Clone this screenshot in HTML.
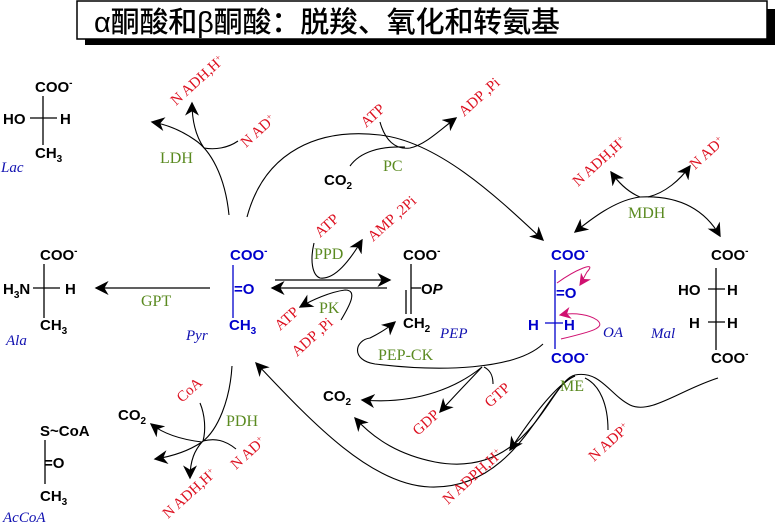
<!DOCTYPE html>
<html><head><meta charset="utf-8"><style>
html,body{margin:0;padding:0;background:#fff;}
svg{display:block;}
.b{font-family:"Liberation Sans",sans-serif;font-weight:bold;font-size:15px;fill:#000;}
.bl{font-family:"Liberation Sans",sans-serif;font-weight:bold;font-size:15px;fill:#0000cc;}
.sub{font-size:10px;}
.it{font-family:"Liberation Serif",serif;font-style:italic;font-size:15px;fill:#1010b0;}
.g{font-family:"Liberation Serif",serif;font-size:16px;fill:#5a8a20;}
.r{font-family:"Liberation Serif",serif;font-size:15px;fill:#dd1020;}
path.c{fill:none;stroke:#000;stroke-width:1.1;}
line{stroke:#000;stroke-width:1.3;}
</style></head><body>
<svg width="777" height="527" viewBox="0 0 777 527" xmlns="http://www.w3.org/2000/svg">
<defs>
<marker id="a" viewBox="0 0 10 10" refX="9" refY="5" markerWidth="14" markerHeight="14" markerUnits="userSpaceOnUse" orient="auto"><path d="M0,0 L10,5 L0,10 L3,5z" fill="#000"/></marker>
<marker id="m" viewBox="0 0 10 10" refX="9" refY="5" markerWidth="12" markerHeight="12" markerUnits="userSpaceOnUse" orient="auto"><path d="M0,0 L10,5 L0,10 L3,5z" fill="#d01070"/></marker>
</defs>
<!-- title -->
<rect x="85" y="9" width="690" height="36" fill="#000"/>
<rect x="77" y="1" width="690" height="38" fill="#fff" stroke="#000" stroke-width="1.5"/>
<text x="94" y="32" textLength="466" style="font-family:'Liberation Sans','Noto Sans CJK SC',sans-serif;font-size:29px;font-weight:500;">α酮酸和β酮酸：脱羧、氧化和转氨基</text>

<!-- Lac -->
<text class="b" x="35" y="92">COO<tspan class="sub" dy="-6">-</tspan></text>
<line x1="43" y1="96" x2="43" y2="145"/><line x1="30" y1="118" x2="57" y2="118"/>
<text class="b" x="3" y="124">HO</text><text class="b" x="60" y="124">H</text>
<text class="b" x="35" y="158">CH<tspan class="sub" dy="4">3</tspan></text>
<text class="it" x="1" y="172">Lac</text>

<!-- Ala -->
<text class="b" x="40" y="260">COO<tspan class="sub" dy="-6">-</tspan></text>
<line x1="44" y1="264" x2="44" y2="318"/><line x1="33" y1="288" x2="60" y2="288"/>
<text class="b" x="3" y="294">H<tspan class="sub" dy="4">3</tspan><tspan dy="-4">N</tspan></text><text class="b" x="65" y="294">H</text>
<text class="b" x="40" y="330">CH<tspan class="sub" dy="4">3</tspan></text>
<text class="it" x="6" y="345">Ala</text>

<!-- AcCoA -->
<text class="b" x="40" y="436">S~CoA</text>
<line x1="45" y1="440" x2="45" y2="484"/>
<text class="b" x="44" y="468">=O</text>
<text class="b" x="40" y="501">CH<tspan class="sub" dy="4">3</tspan></text>
<text class="it" x="3" y="522">AcCoA</text>

<!-- Pyr -->
<text class="bl" x="230" y="260">COO<tspan class="sub" dy="-6">-</tspan></text>
<line x1="233" y1="265" x2="233" y2="318" style="stroke:#0000cc"/>
<text class="bl" x="234" y="294">=O</text>
<text class="bl" x="229" y="330">CH<tspan class="sub" dy="4">3</tspan></text>
<text class="it" x="186" y="340">Pyr</text>

<!-- PEP -->
<text class="b" x="403" y="260">COO<tspan class="sub" dy="-6">-</tspan></text>
<line x1="411" y1="264" x2="411" y2="314"/><line x1="406" y1="290" x2="406" y2="314"/>
<line x1="411" y1="288" x2="421" y2="288"/>
<text class="b" x="421" y="294">O<tspan font-style="italic">P</tspan></text>
<text class="b" x="403" y="328">CH<tspan class="sub" dy="4">2</tspan></text>
<text class="it" x="440" y="338">PEP</text>

<!-- OA -->
<text class="bl" x="551" y="260">COO<tspan class="sub" dy="-6">-</tspan></text>
<line x1="555" y1="270" x2="555" y2="349" style="stroke:#0000cc"/>
<line x1="545" y1="323" x2="563" y2="323" style="stroke:#0000cc"/>
<text class="bl" x="556" y="298">=O</text>
<text class="bl" x="528" y="330">H</text><text class="bl" x="564" y="330">H</text>
<text class="bl" x="551" y="363">COO<tspan class="sub" dy="-6">-</tspan></text>
<text class="it" x="603" y="337">OA</text>
<path d="M557,283 C575,270 598,260 587,272 C584,277 582,282 580,285" fill="none" stroke="#d01070" stroke-width="1" marker-end="url(#m)"/>
<path d="M561,339 C590,332 607,328 597,320 C590,315 575,312 560,315" fill="none" stroke="#d01070" stroke-width="1" marker-end="url(#m)"/>

<!-- Mal -->
<text class="b" x="711" y="260">COO<tspan class="sub" dy="-6">-</tspan></text>
<line x1="716" y1="268" x2="716" y2="350"/>
<line x1="708" y1="289" x2="725" y2="289"/><line x1="708" y1="322" x2="725" y2="322"/>
<text class="b" x="678" y="295">HO</text><text class="b" x="727" y="295">H</text>
<text class="b" x="689" y="328">H</text><text class="b" x="727" y="328">H</text>
<text class="b" x="711" y="363">COO<tspan class="sub" dy="-6">-</tspan></text>
<text class="it" x="651" y="338">Mal</text>

<!-- GPT -->
<line x1="210" y1="288" x2="96" y2="288" marker-end="url(#a)"/>
<text class="g" x="141" y="306">GPT</text>

<!-- Pyr <-> PEP -->
<line x1="275" y1="280" x2="390" y2="280" marker-end="url(#a)"/>
<line x1="387" y1="288" x2="272" y2="288" marker-end="url(#a)"/>

<!-- PPD -->
<path class="c" d="M314,243 C310,260 312,275 320,278 C335,280 350,260 362,240" marker-end="url(#a)"/>
<text class="g" x="314" y="259">PPD</text>
<text class="r" transform="translate(320,238) rotate(-42)">ATP</text>
<text class="r" transform="translate(373,242) rotate(-42)">AMP ,2Pi</text>

<!-- PK -->
<path class="c" d="M341,320 C350,305 358,290 345,290 C330,292 312,300 300,307" marker-end="url(#a)"/>
<text class="g" x="319" y="313">PK</text>
<text class="r" transform="translate(280,331) rotate(-42)">ATP</text>
<text class="r" transform="translate(297,357) rotate(-42)">ADP ,Pi</text>

<!-- LDH -->
<path class="c" d="M229,215 C225,175 210,150 195,140 C185,133 170,125 152,122" marker-end="url(#a)"/>
<path class="c" d="M204,148 C195,135 192,120 192,103" marker-end="url(#a)"/>
<path class="c" d="M238,141 C228,148 215,150 204,148"/>
<text class="g" x="160" y="163">LDH</text>
<text class="r" transform="translate(176,106) rotate(-42)">N ADH,H<tspan font-size="9" dy="-5">+</tspan></text>
<text class="r" transform="translate(246,148) rotate(-42)">N AD<tspan font-size="9" dy="-5">+</tspan></text>

<!-- PC -->
<path class="c" d="M247,217 C265,150 320,128 380,135 C440,142 500,200 543,240" marker-end="url(#a)"/>
<path class="c" d="M380,122 C385,140 395,150 410,148 C425,145 440,130 456,118" marker-end="url(#a)"/>
<path class="c" d="M350,166 C360,152 380,146 405,147"/>
<text class="g" x="383" y="171">PC</text>
<text class="b" x="324" y="185">CO<tspan class="sub" dy="4">2</tspan></text>
<text class="r" transform="translate(366,128) rotate(-42)">ATP</text>
<text class="r" transform="translate(464,117) rotate(-42)">ADP ,Pi</text>

<!-- MDH -->
<path class="c" d="M640,197 C615,200 590,220 575,232" marker-end="url(#a)"/>
<path class="c" d="M640,197 C680,195 705,210 720,236" marker-end="url(#a)"/>
<path class="c" d="M640,197 C628,192 618,182 611,172" marker-end="url(#a)"/>
<path class="c" d="M648,197 C665,193 680,180 690,166" marker-end="url(#a)"/>
<text class="g" x="628" y="218">MDH</text>
<text class="r" transform="translate(578,187) rotate(-42)">N ADH,H<tspan font-size="9" dy="-5">+</tspan></text>
<text class="r" transform="translate(695,170) rotate(-42)">N AD<tspan font-size="9" dy="-5">+</tspan></text>

<!-- PDH -->
<path class="c" d="M232,366 C230,400 218,430 202,442 C195,450 190,460 190,478" marker-end="url(#a)"/>
<path class="c" d="M202,442 C185,440 165,435 151,424" marker-end="url(#a)"/>
<path class="c" d="M202,442 C190,450 175,456 155,459" marker-end="url(#a)"/>
<path class="c" d="M200,403 C205,415 206,430 203,441"/>
<path class="c" d="M236,449 C225,440 215,438 203,441"/>
<text class="g" x="226" y="426">PDH</text>
<text class="b" x="118" y="420">CO<tspan class="sub" dy="4">2</tspan></text>
<text class="r" transform="translate(182,403) rotate(-42)">CoA</text>
<text class="r" transform="translate(236,470) rotate(-42)">N AD<tspan font-size="9" dy="-5">+</tspan></text>
<text class="r" transform="translate(168,519) rotate(-42)">N ADH,H<tspan font-size="9" dy="-5">+</tspan></text>

<!-- PEP-CK -->
<path class="c" d="M543,344 C515,370 440,372 375,364 C350,360 355,340 370,338 C380,333 388,328 395,322" marker-end="url(#a)"/>
<path class="c" d="M482,367 C470,380 455,395 440,412" marker-end="url(#a)"/>
<path class="c" d="M482,367 C460,385 420,405 362,400" marker-end="url(#a)"/>
<path class="c" d="M493,384 C493,375 490,370 484,367"/>
<text class="g" x="378" y="360">PEP-CK</text>
<text class="b" x="323" y="401">CO<tspan class="sub" dy="4">2</tspan></text>
<text class="r" transform="translate(490,408) rotate(-42)">GTP</text>
<text class="r" transform="translate(418,436) rotate(-42)">GDP</text>

<!-- ME -->
<path class="c" d="M718,378 C680,390 650,415 630,405 C610,395 600,370 575,375 C550,380 530,480 435,462 C400,455 375,440 355,418" marker-end="url(#a)"/>
<path class="c" d="M575,376 C545,385 520,490 430,487 C370,485 310,420 256,363" marker-end="url(#a)"/>
<path class="c" d="M575,376 C555,385 530,420 510,450" marker-end="url(#a)"/>
<path class="c" d="M608,430 C608,405 600,385 585,378"/>
<text class="g" x="560" y="391">ME</text>
<text class="r" transform="translate(594,462) rotate(-42)">N ADP<tspan font-size="9" dy="-5">+</tspan></text>
<text class="r" transform="translate(448,505) rotate(-42)">N ADPH,H<tspan font-size="9" dy="-5">+</tspan></text>
</svg>
</body></html>
